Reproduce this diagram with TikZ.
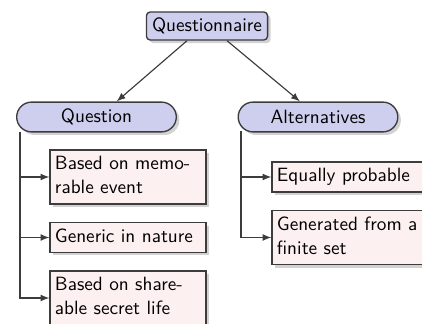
\documentclass[tikz,border=0pt]{standalone}
\usepackage{fontspec}
\usetikzlibrary{
    arrows,
    shapes.misc,
    shadows
}
\definecolor{headfill}{RGB}{206,206,238}
\definecolor{itemfill}{RGB}{253,240,240}
\definecolor{edgegray}{RGB}{60,60,60}
\tikzset{
  every node/.style={
    font=\sffamily\fontsize{10}{12.5}\selectfont,
    draw=edgegray,
    line width=0.7pt,
    inner xsep=2.5pt,
    inner ysep=1.5pt
  },
  rootbox/.style={
    rectangle,
    rounded corners=2pt,
    fill=headfill,
    minimum width=63pt,
    minimum height=14.6pt,
    drop shadow={shadow xshift=1.6pt, shadow yshift=-1.6pt, fill=black!35}
  },
  headbox/.style={
    rounded rectangle,
    fill=headfill,
    minimum width=88pt,
    minimum height=15.5pt,
    drop shadow={shadow xshift=1.6pt, shadow yshift=-1.6pt, fill=black!35}
  },
  itembox/.style={
    rectangle,
    fill=itemfill,
    text width=76pt,
    align=left,
    execute at begin node=\strut,
    execute at end node=\strut,
    drop shadow={shadow xshift=1.6pt, shadow yshift=-1.6pt, fill=black!35}
  },
  branch/.style={
    draw=edgegray,
    line width=0.6pt,
    -latex
  }
}

\begin{document}
\begin{tikzpicture}[x=0.52pt, y=-0.52pt]
\useasboundingbox (0,0) rectangle (422,324);
\clip (0,0) rectangle (422,324);
% top of the tree
\node[rootbox] (root) at (207,26) {Questionnaire};
\node[headbox] (ques) at (96.5,117) {Question};
\node[headbox] (alt) at (318,117) {Alternatives};
% leaves
\node[itembox] (q1) at (128,177) {Based on memo-\\rable event};
\node[itembox] (q2) at (128,237.5) {Generic in nature};
\node[itembox] (q3) at (128,298) {Based on share-\\able secret life};
\node[itembox] (a1) at (350,177) {Equally probable};
\node[itembox] (a2) at (350,237.5) {Generated from a\\finite set};
\coordinate (qstem) at (20,132);
\coordinate (astem) at (241,131);
\draw[branch] ([xshift=-10.4pt]root.south) -- ([xshift=10.5pt]ques.north);
\draw[branch] ([xshift=10.4pt]root.south) -- ([xshift=-9.4pt]alt.north);
\foreach \leaf in {q1,q2,q3} {
  \draw[branch] (qstem) |- (\leaf.west);
}
\foreach \leaf in {a1,a2} {
  \draw[branch] (astem) |- (\leaf.west);
}
\end{tikzpicture}
\end{document}
